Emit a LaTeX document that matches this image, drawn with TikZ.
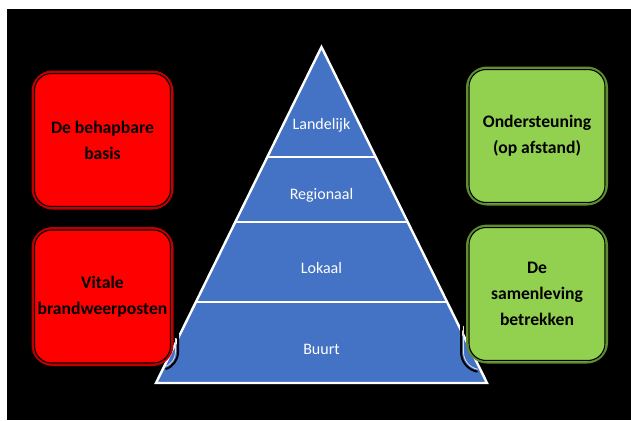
\documentclass[tikz,border=0pt]{standalone}
\usepackage{fontspec}
\setmainfont{Carlito}
\usetikzlibrary{calc}
\definecolor{pblue}{HTML}{4472C4}
\definecolor{bred}{HTML}{FF0000}
\definecolor{bredline}{HTML}{C00000}
\definecolor{bgreen}{HTML}{92D050}
\definecolor{bgreenline}{HTML}{5E8C31}
\tikzset{
  sidebox/.style={rounded corners=20pt, line width=2pt, minimum width=140pt, minimum height=137pt,
    align=center, font=\fontsize{17.6}{26}\selectfont\bfseries, text=black, inner sep=0pt},
  redbox/.style={sidebox, fill=bred, draw=bredline},
  greenbox/.style={sidebox, fill=bgreen, draw=bgreenline},
  innerline/.style={draw=black, line width=1.1pt, rounded corners=17pt},
  level/.style={text=white, font=\fontsize{16}{18}\selectfont},
  sep/.style={draw=white, line width=2.6pt},
}
\begin{document}
\begin{tikzpicture}[x=1pt,y=-1pt]
\useasboundingbox (0,0) rectangle (631,420);
\fill[white] (0,0) rectangle (631,420);
\fill[black] (7,9) rectangle (631,420);

% pyramid
\coordinate (apex) at (321.5,47);
\coordinate (bl) at (156,383);
\coordinate (br) at (487,383);
\filldraw[fill=pblue, draw=white, line width=2.4pt, line join=miter] (apex) -- (br) -- (bl) -- cycle;
\draw[sep] ($(apex)!0.3274!(bl)$) -- ($(apex)!0.3274!(br)$);
\draw[sep] ($(apex)!0.5208!(bl)$) -- ($(apex)!0.5208!(br)$);
\draw[sep] ($(apex)!0.7589!(bl)$) -- ($(apex)!0.7589!(br)$);

\node[level] (l1) at (321.5,125) {Landelijk};
\node[level] (l2) at (321.5,195) {Regionaal};
\node[level] (l3) at (321.5,268) {Lokaal};
\node[level] (l4) at (321.5,349) {Buurt};

% corner artifacts over the pyramid
\draw[black, line width=2pt] (178,334) -- (178,352) arc[start angle=0, end angle=72, radius=18];
\draw[gray!25, line width=0.8pt] (175.5,338) -- (175.5,352) arc[start angle=0, end angle=72, radius=15.5];
\draw[black, line width=2pt] (461,322) -- (461,352) arc[start angle=180, end angle=100, radius=20];
\draw[gray!25, line width=0.8pt] (463.5,326) -- (463.5,352) arc[start angle=180, end angle=100, radius=17.5];

% boxes
\node[redbox] (r1) at (102.5,140) {De behapbare\\basis};
\node[redbox] (r2) at (102.5,296.5) {Vitale\\brandweerposten};
\node[greenbox] (g1) at (537,136) {Ondersteuning\\(op afstand)};
\node[greenbox] (g2) at (537,294) {De\\samenleving\\betrekken};
\foreach \b in {r1,r2,g1,g2}
  \draw[innerline] ([shift={(3,3)}]\b.north west) rectangle ([shift={(-3,-3)}]\b.south east);
\end{tikzpicture}
\end{document}
